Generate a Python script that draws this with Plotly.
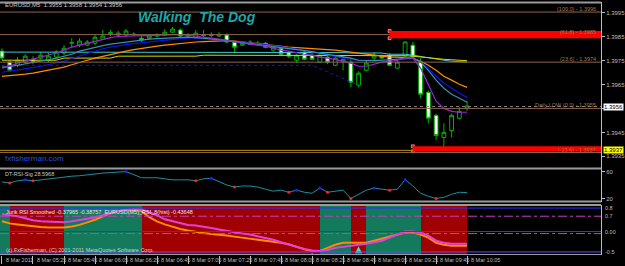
import plotly.graph_objects as go

# ---------------- data ----------------
bars = list(range(61))
opens = [1.39789, 1.39743, 1.39730, 1.39743, 1.39755, 1.39760, 1.39751, 1.39764, 1.39781, 1.39822,
         1.39814, 1.39814, 1.39822, 1.39839, 1.39862, 1.39856, 1.39856, 1.39860, 1.39843, 1.39843,
         1.39852, 1.39856, 1.39868, 1.39877, 1.39852, 1.39847, 1.39858, 1.39854, 1.39852, 1.39856,
         1.39827, 1.39814, 1.39827, 1.39818, 1.39822, 1.39793, 1.39801, 1.39785, 1.39751, 1.39785,
         1.39772, 1.39743, 1.39764, 1.39730, 1.39747, 1.39743, 1.39647, 1.39709, 1.39760, 1.39768,
         1.39772, 1.39718, 1.39768, 1.39814, 1.39743, 1.39617, 1.39521, 1.39429, 1.39458, 1.39509, 1.39550]
highs = [1.39801, 1.39751, 1.39764, 1.39776, 1.39768, 1.39785, 1.39781, 1.39793, 1.39814, 1.39843,
         1.39843, 1.39835, 1.39856, 1.39877, 1.39877, 1.39873, 1.39881, 1.39868, 1.39852, 1.39860,
         1.39864, 1.39881, 1.39890, 1.39885, 1.39864, 1.39877, 1.39877, 1.39868, 1.39868, 1.39864,
         1.39831, 1.39831, 1.39835, 1.39831, 1.39827, 1.39814, 1.39805, 1.39789, 1.39776, 1.39793,
         1.39781, 1.39781, 1.39768, 1.39764, 1.39768, 1.39760, 1.39705, 1.39751, 1.39785, 1.39776,
         1.39781, 1.39751, 1.39831, 1.39827, 1.39760, 1.39625, 1.39529, 1.39488, 1.39529, 1.39555, 1.39580]
lows = [1.39751, 1.39701, 1.39722, 1.39735, 1.39735, 1.39755, 1.39743, 1.39755, 1.39772, 1.39801,
        1.39805, 1.39810, 1.39814, 1.39835, 1.39852, 1.39847, 1.39852, 1.39852, 1.39827, 1.39839,
        1.39847, 1.39852, 1.39864, 1.39847, 1.39847, 1.39843, 1.39847, 1.39847, 1.39847, 1.39822,
        1.39785, 1.39810, 1.39814, 1.39810, 1.39801, 1.39789, 1.39772, 1.39760, 1.39739, 1.39751,
        1.39751, 1.39739, 1.39735, 1.39726, 1.39709, 1.39638, 1.39638, 1.39705, 1.39751, 1.39755,
        1.39726, 1.39713, 1.39764, 1.39760, 1.39592, 1.39488, 1.39417, 1.39387, 1.39429, 1.39504, 1.39540]
closes = [1.39760, 1.39709, 1.39751, 1.39768, 1.39743, 1.39772, 1.39768, 1.39785, 1.39801, 1.39824,
          1.39831, 1.39827, 1.39847, 1.39852, 1.39866, 1.39864, 1.39873, 1.39858, 1.39835, 1.39852,
          1.39856, 1.39868, 1.39881, 1.39852, 1.39856, 1.39864, 1.39854, 1.39856, 1.39858, 1.39827,
          1.39805, 1.39822, 1.39818, 1.39822, 1.39805, 1.39805, 1.39776, 1.39768, 1.39772, 1.39755,
          1.39755, 1.39772, 1.39743, 1.39760, 1.39755, 1.39659, 1.39697, 1.39739, 1.39772, 1.39760,
          1.39730, 1.39743, 1.39827, 1.39764, 1.39609, 1.39509, 1.39437, 1.39450, 1.39521, 1.39538, 1.39560]

ma_purple = [1.39718, 1.39726, 1.39739, 1.39747, 1.39755, 1.39764, 1.39772, 1.39781, 1.39793, 1.39806,
             1.39814, 1.39822, 1.39831, 1.39839, 1.39845, 1.39850, 1.39852, 1.39854, 1.39854, 1.39854,
             1.39856, 1.39856, 1.39858, 1.39858, 1.39856, 1.39852, 1.39847, 1.39843, 1.39839, 1.39835,
             1.39827, 1.39822, 1.39818, 1.39814, 1.39810, 1.39801, 1.39793, 1.39789, 1.39781, 1.39776,
             1.39772, 1.39764, 1.39760, 1.39755, 1.39747, 1.39739, 1.39726, 1.39726, 1.39735, 1.39743,
             1.39747, 1.39751, 1.39760, 1.39760, 1.39718, 1.39647, 1.39580, 1.39550, 1.39538, 1.39534, 1.39534]
ma_teal = [1.39722, 1.39724, 1.39730, 1.39735, 1.39741, 1.39747, 1.39753, 1.39760, 1.39768, 1.39776,
           1.39789, 1.39797, 1.39806, 1.39812, 1.39818, 1.39822, 1.39829, 1.39833, 1.39835, 1.39839,
           1.39841, 1.39843, 1.39845, 1.39847, 1.39847, 1.39845, 1.39843, 1.39841, 1.39837, 1.39833,
           1.39829, 1.39824, 1.39822, 1.39818, 1.39814, 1.39810, 1.39806, 1.39801, 1.39795, 1.39791,
           1.39787, 1.39781, 1.39776, 1.39772, 1.39766, 1.39760, 1.39751, 1.39749, 1.39749, 1.39751,
           1.39753, 1.39755, 1.39760, 1.39760, 1.39743, 1.39709, 1.39668, 1.39634, 1.39609, 1.39592, 1.39576]
ma_blue = [1.39701, 1.39705, 1.39709, 1.39714, 1.39720, 1.39726, 1.39732, 1.39739, 1.39747, 1.39758,
           1.39768, 1.39781, 1.39791, 1.39799, 1.39806, 1.39812, 1.39816, 1.39820, 1.39824, 1.39827,
           1.39831, 1.39835, 1.39839, 1.39841, 1.39843, 1.39845, 1.39843, 1.39839, 1.39835, 1.39831,
           1.39829, 1.39827, 1.39824, 1.39820, 1.39816, 1.39812, 1.39808, 1.39804, 1.39799, 1.39793,
           1.39787, 1.39781, 1.39772, 1.39766, 1.39760, 1.39753, 1.39751, 1.39751, 1.39751, 1.39751,
           1.39753, 1.39755, 1.39760, 1.39760, 1.39743, 1.39718, 1.39684, 1.39655, 1.39634, 1.39613, 1.39596]
ma_orange = [1.39684, 1.39686, 1.39689, 1.39693, 1.39697, 1.39703, 1.39709, 1.39716, 1.39722, 1.39732,
             1.39743, 1.39751, 1.39760, 1.39768, 1.39776, 1.39783, 1.39789, 1.39795, 1.39801, 1.39806,
             1.39810, 1.39814, 1.39818, 1.39822, 1.39824, 1.39827, 1.39829, 1.39831, 1.39833, 1.39833,
             1.39831, 1.39829, 1.39824, 1.39820, 1.39816, 1.39812, 1.39808, 1.39806, 1.39804, 1.39801,
             1.39799, 1.39797, 1.39795, 1.39793, 1.39789, 1.39785, 1.39781, 1.39776, 1.39772, 1.39768,
             1.39764, 1.39764, 1.39762, 1.39760, 1.39747, 1.39730, 1.39709, 1.39684, 1.39668, 1.39651, 1.39638]
ma_yellow = [1.39751, 1.39751, 1.39751, 1.39751, 1.39751, 1.39751, 1.39751, 1.39751, 1.39760, 1.39760,
             1.39760, 1.39760, 1.39760, 1.39760, 1.39760, 1.39768, 1.39768, 1.39768, 1.39768, 1.39768,
             1.39768, 1.39768, 1.39768, 1.39768, 1.39768, 1.39768, 1.39772, 1.39772, 1.39772, 1.39772,
             1.39772, 1.39772, 1.39772, 1.39772, 1.39772, 1.39772, 1.39772, 1.39772, 1.39772, 1.39772,
             1.39772, 1.39772, 1.39772, 1.39772, 1.39772, 1.39770, 1.39770, 1.39770, 1.39770, 1.39770,
             1.39770, 1.39770, 1.39770, 1.39768, 1.39764, 1.39760, 1.39758, 1.39755, 1.39753, 1.39751, 1.39749]
ma_cyan = [1.39785, 1.39785, 1.39785, 1.39785, 1.39785, 1.39785, 1.39785, 1.39785, 1.39785, 1.39785,
           1.39785, 1.39785, 1.39785, 1.39785, 1.39785, 1.39785, 1.39785, 1.39785, 1.39785, 1.39785,
           1.39785, 1.39785, 1.39785, 1.39785, 1.39785, 1.39785, 1.39785, 1.39785, 1.39785, 1.39785,
           1.39785, 1.39785, 1.39785, 1.39785, 1.39785, 1.39785, 1.39785, 1.39785, 1.39785, 1.39783,
           1.39783, 1.39783, 1.39783, 1.39783, 1.39783, 1.39781, 1.39781, 1.39781, 1.39781, 1.39781,
           1.39776, 1.39776, 1.39776, 1.39772, 1.39766, 1.39760, 1.39755, 1.39751, 1.39747, 1.39745, 1.39743]

trend_idx = [0, 40, 46]
trend_price = [1.39730, 1.39730, 1.39647]

fib_prices = [1.39952, 1.39858, 1.39743, 1.39550, 1.39366]
fib_labels = ["(100.0) - 1.3996", "(61.8) - 1.3985", "(23.6) - 1.3974",
              "Daily LOW (0.0) - 1.3955", "(-23.6) - 1.3937"]
bid_price = 1.39558
gold_price = 1.39375
zones_start = [50, 53]
zones_low = [1.39843, 1.39371]
zones_high = [1.39873, 1.39392]

price_ticks = [1.3935, 1.3945, 1.3955, 1.3965, 1.3975, 1.3985, 1.3995]
price_tick_text = ["1.3935", "1.3945", "", "1.3965", "1.3975", "1.3985", "1.3995"]

rsi = [44.6, 43.1, 46.2, 47.7, 46.2, 47.7, 49.2, 50.8, 52.3, 53.1,
       53.8, 55.4, 56.9, 57.7, 58.5, 59.2, 60.0, 55.4, 50.8, 50.8,
       50.8, 49.2, 47.7, 47.7, 47.7, 46.2, 49.2, 50.0, 44.6, 40.0,
       36.9, 38.5, 38.5, 36.9, 33.8, 30.8, 32.3, 29.2, 32.3, 29.2,
       27.7, 35.4, 29.2, 30.8, 32.3, 20.0, 26.2, 32.3, 35.4, 33.8,
       32.3, 33.8, 47.7, 38.5, 27.7, 23.1, 20.0, 21.5, 26.2, 29.2, 28.6]
rsi_up_idx = [3, 16, 27, 38, 41, 48, 52]
rsi_dn_idx = [1, 4, 25, 30, 37, 42, 45, 50, 56]
rsi_ticks = [20, 60]

jrsi_fast = [0.425, 0.4, 0.375, 0.325, 0.275, 0.25, 0.2375, 0.225, 0.225, 0.25,
             0.275, 0.3125, 0.35, 0.4, 0.4625, 0.5, 0.525, 0.55, 0.5375, 0.475,
             0.4, 0.3, 0.25, 0.2, 0.1625, 0.15, 0.125, 0.0875, 0.05, 0.0125,
             -0.025, -0.05, -0.075, -0.1125, -0.15, -0.2, -0.2625, -0.325, -0.375, -0.425,
             -0.4625, -0.475, -0.45, -0.4, -0.375, -0.3625, -0.325, -0.3, -0.2625, -0.225,
             -0.15, -0.075, 0.0, 0.0, -0.025, -0.1, -0.225, -0.275, -0.3, -0.3, -0.3]
jrsi_slow = [0.25, 0.2, 0.175, 0.15, 0.125, 0.1125, 0.1, 0.1, 0.1, 0.125,
             0.1625, 0.225, 0.2875, 0.375, 0.45, 0.5, 0.525, 0.525, 0.5, 0.35,
             0.25, 0.175, 0.1125, 0.0625, 0.025, -0.0125, -0.0375, -0.0625, -0.075, -0.1,
             -0.125, -0.15, -0.1625, -0.1875, -0.2125, -0.25, -0.275, -0.3125, -0.375, -0.4375,
             -0.475, -0.475, -0.4, -0.325, -0.275, -0.275, -0.275, -0.275, -0.225, -0.175,
             -0.125, -0.0625, -0.025, -0.025, -0.075, -0.15, -0.275, -0.325, -0.35, -0.35, -0.35]
trend_state = [1, 1, 0, 0, 0, 0, 0, 0, 0, 1,
               1, 1, 1, 1, 1, 1, 1, 1, 1, 0,
               0, 0, 0, 0, 0, 0, 0, 0, 0, 0,
               0, 0, 0, 0, 0, 0, 0, 0, 0, 0,
               0, 0, 1, 1, 1, 1, 0, 0, 1, 1,
               1, 1, 1, 1, 1, 0, 0, 0, 0, 0, 0]
arrow_idx = [40, 46]
arrow_val = [-0.52, -0.36]
jrsi_levels = [0.575, 0.375, 0.0, -0.05, -0.5]
jrsi_level_labels = ["0.8", "0.7", "0.00", "", "-0.5"]

time_idx = [0, 4, 8, 12, 16, 20, 24, 28, 32, 36, 40, 44, 48, 52, 56, 60]
time_labels = ["8 Mar 2011", "8 Mar 05:25", "8 Mar 05:45", "8 Mar 06:05", "8 Mar 06:25",
               "8 Mar 06:45", "8 Mar 07:05", "8 Mar 07:25", "8 Mar 07:45", "8 Mar 08:05",
               "8 Mar 08:25", "8 Mar 08:45", "8 Mar 09:05", "8 Mar 09:25", "8 Mar 09:45",
               "8 Mar 10:05"]

# ---------------- layout helpers ----------------
W, H = 625, 266
ML, MR, MT, MB = 0, 18, 2, 11
PW = W - ML - MR
PH = H - MT - MB


def py(Y):
    return (H - MB - Y) / PH


def px(X):
    return (X - ML) / PW


XR = [-0.255, 77.27]
FONT = "Liberation Sans"
GRAY = "#BDBDBD"
FIBC = "#8C6450"

fig = go.Figure()

# main panel
fig.add_trace(go.Scatter(x=trend_idx, y=trend_price, mode="lines",
                         line=dict(color="#1020C0", width=1, dash="dot"),
                         xaxis="x", yaxis="y", hoverinfo="skip"))
for vals, col, w in [(ma_cyan, "#40C8C8", 1), (ma_yellow, "#D8D800", 1),
                     (ma_orange, "#FF8C00", 1.2), (ma_blue, "#1010E8", 1.2),
                     (ma_teal, "#3A8FB0", 1.2), (ma_purple, "#9A22D8", 1.2)]:
    fig.add_trace(go.Scatter(x=bars, y=vals, mode="lines", line=dict(color=col, width=w),
                             xaxis="x", yaxis="y", hoverinfo="skip"))
fig.add_trace(go.Candlestick(x=bars, open=opens, high=highs, low=lows, close=closes,
                             increasing=dict(line=dict(color="#00B000", width=1), fillcolor="#000000"),
                             decreasing=dict(line=dict(color="#00B000", width=1), fillcolor="#FFFFFF"),
                             whiskerwidth=0, xaxis="x", yaxis="y"))
fig.add_trace(go.Scatter(x=[zones_start[0], zones_start[0], zones_start[1], zones_start[1]],
                         y=[zones_low[0], zones_high[0], zones_low[1], zones_high[1]],
                         mode="markers", marker=dict(symbol="square", size=3, color="#FF0000",
                                                     line=dict(color="#FFFFFF", width=0.5)),
                         xaxis="x", yaxis="y", hoverinfo="skip"))

# rsi panel
fig.add_trace(go.Scatter(x=bars, y=rsi, mode="lines", line=dict(color="#1E8FA0", width=1),
                         xaxis="x2", yaxis="y2", hoverinfo="skip"))
fig.add_trace(go.Scatter(x=rsi_up_idx, y=[rsi[i] for i in rsi_up_idx], mode="markers",
                         marker=dict(color="#2020FF", size=3), xaxis="x2", yaxis="y2"))
fig.add_trace(go.Scatter(x=rsi_dn_idx, y=[rsi[i] for i in rsi_dn_idx], mode="markers",
                         marker=dict(color="#FF2020", size=3), xaxis="x2", yaxis="y2"))

# bottom panel
J_TOP, J_BOT = 0.65, -0.575
fig.add_trace(go.Bar(x=bars, y=[J_TOP - J_BOT for _ in trend_state], base=J_BOT,
                     offset=-1, width=1,
                     marker=dict(color=["#137A5C" if s else "#A00000" for s in trend_state],
                                 line=dict(width=0)),
                     xaxis="x3", yaxis="y3", hoverinfo="skip"))
fig.add_trace(go.Scatter(x=bars, y=jrsi_slow, mode="lines", line=dict(color="#FF8C00", width=2),
                         xaxis="x3", yaxis="y3", hoverinfo="skip"))
fig.add_trace(go.Scatter(x=bars, y=jrsi_fast, mode="lines", line=dict(color="#E040E0", width=2),
                         xaxis="x3", yaxis="y3", hoverinfo="skip"))
fig.add_trace(go.Scatter(x=arrow_idx, y=arrow_val, mode="markers",
                         marker=dict(symbol="arrow-up", size=7, color="#40E0D0"),
                         xaxis="x3", yaxis="y3", hoverinfo="skip"))

shapes = []
for p in fib_prices:
    shapes.append(dict(type="line", xref="paper", yref="y", x0=0, x1=1, y0=p, y1=p,
                       line=dict(color=FIBC, width=1)))
shapes.append(dict(type="line", xref="paper", yref="y", x0=0, x1=1, y0=bid_price, y1=bid_price,
                   line=dict(color="#808080", width=1, dash="dot")))
shapes.append(dict(type="line", xref="paper", yref="y", x0=0, x1=1, y0=gold_price, y1=gold_price,
                   line=dict(color="#B8900B", width=1)))
for s, lo, hi in zip(zones_start, zones_low, zones_high):
    shapes.append(dict(type="rect", xref="x", yref="y", x0=s, x1=XR[1], y0=lo, y1=hi,
                       fillcolor="#FF0000", line=dict(width=0), layer="above"))
lvl_styles = [("#3030FF", "solid"), ("#C040C0", "dashdot"), ("#3030FF", "solid"),
              ("#C040C0", "dashdot"), ("#5050FF", "solid")]
for v, (c, d) in zip(jrsi_levels, lvl_styles):
    shapes.append(dict(type="line", xref="paper", yref="y3", x0=0, x1=1, y0=v, y1=v,
                       line=dict(color=c, width=1, dash=d), layer="above"))
for Y, w in [(2.5, 2), (168.5, 2), (201.5, 2), (205, 2), (254.5, 1)]:
    shapes.append(dict(type="line", xref="paper", yref="paper", x0=0, x1=1, y0=py(Y), y1=py(Y),
                       line=dict(color="#9A9A9A", width=w)))

ann = []
ann.append(dict(text="EURUSD,M5  1.3955 1.3958 1.3954 1.3956", x=px(3), y=py(5), xref="paper",
                yref="paper", xanchor="left", yanchor="middle", showarrow=False,
                font=dict(family=FONT, size=6, color="#C8C8C8")))
ann.append(dict(text="<b><i>Walking  The Dog</i></b>", x=px(137), y=py(17), xref="paper",
                yref="paper", xanchor="left", yanchor="middle", showarrow=False,
                font=dict(family="Liberation Sans", size=14, color="#18A8A8")))
for p, t in zip(fib_prices, fib_labels):
    ann.append(dict(text=t, x=px(604), y=p, xref="paper", yref="y", xanchor="right",
                    yanchor="bottom", yshift=-2, showarrow=False,
                    font=dict(family=FONT, size=5.5, color="#A07850")))
ann.append(dict(text="fxfisherman.com", x=px(3), y=py(158), xref="paper", yref="paper",
                xanchor="left", yanchor="middle", showarrow=False,
                font=dict(family=FONT, size=8, color="#2A4BE0")))
ann.append(dict(text="1.3956", x=px(609), y=bid_price, xref="paper", yref="y", xanchor="left",
                yanchor="middle", showarrow=False, bgcolor="#FFFFFF",
                font=dict(family=FONT, size=6, color="#000000"), borderpad=0))
ann.append(dict(text="1.3937", x=px(609), y=gold_price, xref="paper", yref="y", xanchor="left",
                yanchor="middle", showarrow=False, bgcolor="#FFFF00",
                font=dict(family=FONT, size=6, color="#000000"), borderpad=0))
ann.append(dict(text="DT-RSI-Sig 28.5968", x=px(3), y=py(174), xref="paper", yref="paper",
                xanchor="left", yanchor="middle", showarrow=False,
                font=dict(family=FONT, size=5.5, color="#C8C8C8")))
ann.append(dict(text="Jurik RSI Smoothed -0.37965 -0.38757  EURUSD(M5)_RSI_8(hist) -0.43648",
                x=px(4), y=py(212), xref="paper", yref="paper", xanchor="left", yanchor="middle",
                showarrow=False, font=dict(family=FONT, size=5.5, color="#E8E8E8")))
ann.append(dict(text="(c) FxFisherman, (C) 2001-2011 MetaQuotes Software Corp.",
                x=px(4), y=py(250), xref="paper", yref="paper", xanchor="left", yanchor="middle",
                showarrow=False, font=dict(family=FONT, size=5.5, color="#D0D0D0")))
for v, t in zip(jrsi_levels, jrsi_level_labels):
    if t:
        ann.append(dict(text=t, x=px(609), y=v, xref="paper", yref="y3", xanchor="left",
                        yanchor="middle", showarrow=False,
                        font=dict(family=FONT, size=5.5, color=GRAY)))
for i, t in zip(time_idx, time_labels):
    ann.append(dict(text=t, x=i, y=py(259.5), xref="x3", yref="paper", xanchor="left",
                    yanchor="middle", xshift=2, showarrow=False,
                    font=dict(family=FONT, size=5.5, color=GRAY)))

axis_common = dict(range=XR, showgrid=False, zeroline=False, showticklabels=False,
                   fixedrange=True)
fig.update_layout(
    width=W, height=H, margin=dict(l=ML, r=MR, t=MT, b=MB),
    paper_bgcolor="#000000", plot_bgcolor="#000000", showlegend=False,
    bargap=0,
    xaxis=dict(domain=[0, 1], anchor="y", rangeslider=dict(visible=False), **axis_common),
    xaxis2=dict(domain=[0, 1], anchor="y2", matches="x", **axis_common),
    xaxis3=dict(domain=[0, 1], anchor="y3", matches="x", ticks="outside", ticklen=8,
                tickcolor=GRAY, tickvals=time_idx, **axis_common),
    yaxis=dict(domain=[py(168.5), py(2)], range=[1.392994, 1.399939], side="right",
               tickvals=price_ticks, ticktext=price_tick_text,
               ticks="outside", ticklen=3, tickcolor=GRAY, showgrid=False, zeroline=False,
               showline=True, linecolor=GRAY, tickfont=dict(family=FONT, size=6, color=GRAY)),
    yaxis2=dict(domain=[py(201.5), py(168.5)], range=[15.4, 64.6], side="right",
                tickvals=rsi_ticks, ticks="outside", ticklen=3, tickcolor=GRAY, showgrid=False,
                zeroline=False, showline=True, linecolor=GRAY,
                tickfont=dict(family=FONT, size=6, color=GRAY)),
    yaxis3=dict(domain=[0, py(205)], range=[J_BOT, J_TOP], side="right", showticklabels=False,
                showgrid=False, zeroline=False, showline=True, linecolor=GRAY),
    shapes=shapes, annotations=ann,
)

fig.write_html("out.html")
